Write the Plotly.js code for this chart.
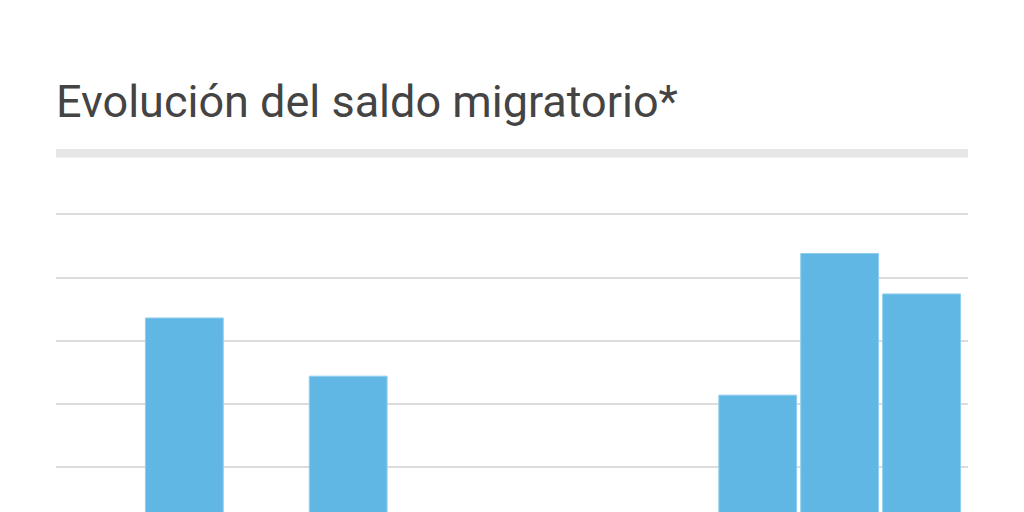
<!DOCTYPE html>
<html>
<head>
<meta charset="utf-8">
<script src="https://cdn.plot.ly/plotly-3.0.1.min.js"></script>
<style>html,body{margin:0;padding:0;background:#fff;}#chart{width:1024px;height:512px;}</style>
</head>
<body>
<div id="chart"></div>
<script>
// Data (the bottom of the chart is cropped; unreadable bars left as null)
var categories = ['2008','2009','2010','2011','2012','2013','2014','2015','2016','2017','2018'];
var saldo = [null, 16800, null, 12200, null, null, null, null, 10700, 21900, 18700];
var titleText = 'Evolución del saldo migratorio*';

var trace = {
  type: 'bar',
  x: categories,
  y: saldo,
  marker: {color: '#61b7e4', line: {color: '#8fcdef', width: 1}},
  hoverinfo: 'x+y'
};

var plotTop = 190, plotH = 322;
function py(pix){ return (512 - pix) / plotH; }

var layout = {
  width: 1024, height: 512,
  margin: {l: 56, r: 56, t: plotTop, b: 0, pad: 0},
  paper_bgcolor: '#fff', plot_bgcolor: '#fff',
  showlegend: false,
  bargap: 0.05,
  title: {
    text: titleText,
    x: 0, xref: 'paper', xanchor: 'left',
    y: 1 - 85/512, yref: 'container', yanchor: 'top',
    font: {family: 'Roboto', size: 45, color: '#444444'}
  },
  xaxis: {
    type: 'category',
    range: [-0.567, 10.567],
    showticklabels: false, showgrid: false, zeroline: false, showline: false, ticks: ''
  },
  yaxis: {
    range: [1462, 26917],
    tick0: 0, dtick: 5000,
    showticklabels: false, ticks: '',
    showgrid: true, gridcolor: '#dcdcdc', gridwidth: 2,
    zeroline: false, showline: false
  },
  shapes: [{
    type: 'rect', xref: 'paper', yref: 'paper',
    x0: 0, x1: 1, y0: py(157.5), y1: py(149),
    fillcolor: '#e6e6e6', line: {width: 0}, layer: 'above'
  }]
};

Plotly.newPlot('chart', [trace], layout, {displayModeBar: false, staticPlot: true});
</script>
</body>
</html>
